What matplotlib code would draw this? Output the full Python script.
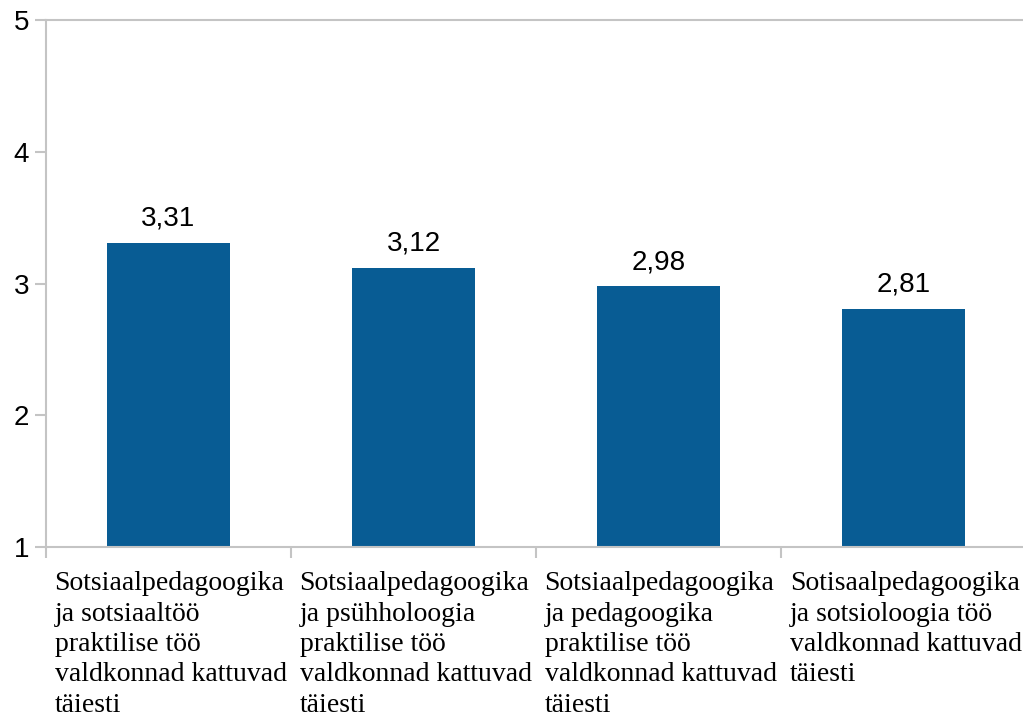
import matplotlib.pyplot as plt
from matplotlib.transforms import blended_transform_factory

# data
categories = [
    "Sotsiaalpedagoogika\nja sotsiaaltöö\npraktilise töö\nvaldkonnad kattuvad\ntäiesti",
    "Sotsiaalpedagoogika\nja psühholoogia\npraktilise töö\nvaldkonnad kattuvad\ntäiesti",
    "Sotsiaalpedagoogika\nja pedagoogika\npraktilise töö\nvaldkonnad kattuvad\ntäiesti",
    "Sotisaalpedagoogika\nja sotsioloogia töö\nvaldkonnad kattuvad\ntäiesti",
]
values = [3.31, 3.12, 2.98, 2.81]
value_labels = ["3,31", "3,12", "2,98", "2,81"]
y_ticks = [1, 2, 3, 4, 5]

bar_color = '#085c94'
axis_gray = '#c4c4c4'

fig = plt.figure(figsize=(10.23, 7.2), dpi=100)
ax = fig.add_axes([46 / 1023, 1 - 547 / 720, 1 - 46 / 1023 + 0.003, (547 - 20) / 720])

x = [i + 0.5 for i in range(len(values))]
ax.bar(x, values, width=0.5, color=bar_color, zorder=2)

for xi, v, lab in zip(x, values, value_labels):
    ax.annotate(lab, (xi, v), xytext=(0, 8), textcoords='offset points',
                ha='center', va='bottom', fontsize=20, family='Liberation Sans')

ax.set_xlim(0, len(values))
ax.set_ylim(1, 5)
ax.set_yticks(y_ticks)
ax.set_yticklabels([str(t) for t in y_ticks], fontsize=20, family='Liberation Sans')
ax.set_xticks(range(len(values) + 1))
ax.set_xticklabels([])

for side in ['left', 'bottom', 'top']:
    ax.spines[side].set_color(axis_gray)
    ax.spines[side].set_linewidth(1.5)
ax.spines['right'].set_visible(False)

ax.tick_params(axis='y', length=8, width=1.5, color=axis_gray, pad=4)
ax.tick_params(axis='x', length=8, width=1.5, color=axis_gray)

# category labels, left aligned under each slot
trans = blended_transform_factory(ax.transData, ax.transAxes)
for i, cat in enumerate(categories):
    ax.text(i + 0.035, -0.046, cat, transform=trans, ha='left', va='top',
            fontsize=20, family='Liberation Serif', linespacing=1.28)

fig.savefig('out.png', dpi=100)
